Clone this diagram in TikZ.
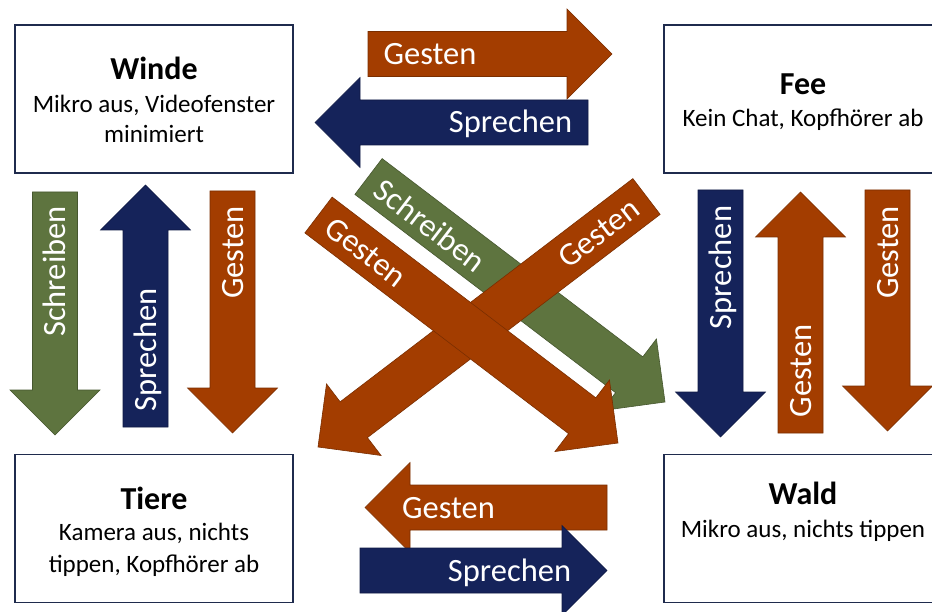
\documentclass[tikz,border=0pt]{standalone}
\usepackage{fontspec}
\setmainfont{Carlito}
\usetikzlibrary{calc}
\definecolor{cOrange}{HTML}{A33D00}
\definecolor{cNavy}{HTML}{15235A}
\definecolor{cGreen}{HTML}{5E743F}
\definecolor{cBox}{HTML}{1F2B4D}
\newcommand\blockarrow[3]{%
  \coordinate (#2h) at ($(#3)!45pt!(#2)$);
  \filldraw[fill=#1, draw=#1!75!black, line width=0.6pt]
    ($(#2)!22.5pt!90:(#3)$) -- ($(#2h)!22.5pt!90:(#3)$) -- ($(#2h)!45pt!90:(#3)$) -- (#3)
    -- ($(#2h)!45pt!-90:(#3)$) -- ($(#2h)!22.5pt!-90:(#3)$) -- ($(#2)!22.5pt!-90:(#3)$) -- cycle;
}
\tikzset{
  box/.style={draw=cBox, line width=1.3pt, fill=white, minimum width=278pt, minimum height=148pt, inner sep=0pt},
  ttl/.style={font=\bfseries\fontsize{32}{36}\selectfont, anchor=base, inner sep=0pt},
  sub/.style={font=\fontsize{25}{30}\selectfont, anchor=base, inner sep=0pt},
  lbl/.style={text=white, font=\fontsize{32.5}{36}\selectfont, inner sep=0pt, text height=21pt, text depth=0pt, anchor=center}
}
\begin{document}
\begin{tikzpicture}[x=1pt, y=-1pt]
\useasboundingbox[fill=white] (0,0) rectangle (932,612);
% boxes
\node[box] (winde) at (154,99) {};
\node[box] (fee) at (803,99) {};
\node[box] (tiere) at (154,528.5) {};
\node[box] (wald) at (803,528.5) {};
\node[ttl] (windet) at (154,80) {Winde};
\node[sub] (windes1) at (154,113) {Mikro aus, Videofenster};
\node[sub] (windes2) at (154,143) {minimiert};
\node[ttl] (feet) at (803,95) {Fee};
\node[sub] (fees1) at (803,127) {Kein Chat, Kopfhörer ab};
\node[ttl] (tieret) at (154,509) {Tiere};
\node[sub] (tieres1) at (154,540) {Kamera aus, nichts};
\node[sub] (tieres2) at (154,572) {tippen, Kopfhörer ab};
\node[ttl] (waldt) at (803,504) {Wald};
\node[sub] (walds1) at (803,537) {Mikro aus, nichts tippen};
% coordinates: tails (t) and tips (p)
\coordinate (ta) at (368,54);    \coordinate (pa) at (612,54);
\coordinate (tb) at (588,122.5); \coordinate (pb) at (315,122.5);
\coordinate (tc) at (607,507.5); \coordinate (pc) at (365,507.5);
\coordinate (td) at (360,570.5); \coordinate (pd) at (607,570.5);
\coordinate (te) at (55,192);    \coordinate (pe) at (55,435);
\coordinate (tf) at (145.5,427); \coordinate (pf) at (145.5,185);
\coordinate (tg) at (232.5,191); \coordinate (pg) at (232.5,433);
\coordinate (th) at (720.5,190); \coordinate (ph) at (720.5,437);
\coordinate (ti) at (800.5,433); \coordinate (pi) at (800.5,192);
\coordinate (tj) at (887.5,190); \coordinate (pj) at (887.5,431);
\coordinate (tk) at (368.5,176.5); \coordinate (pk) at (665,402);
\coordinate (tl) at (646.5,196.5); \coordinate (pl) at (318,447);
\coordinate (tm) at (318.5,215);   \coordinate (pm) at (618,443);
% arrows
\blockarrow{cOrange}{ta}{pa}
\blockarrow{cNavy}{tb}{pb}
\blockarrow{cOrange}{tc}{pc}
\blockarrow{cNavy}{td}{pd}
\blockarrow{cGreen}{te}{pe}
\blockarrow{cNavy}{tf}{pf}
\blockarrow{cOrange}{tg}{pg}
\blockarrow{cNavy}{th}{ph}
\blockarrow{cOrange}{ti}{pi}
\blockarrow{cOrange}{tj}{pj}
\blockarrow{cGreen}{tk}{pk}
\blockarrow{cOrange}{tl}{pl}
\blockarrow{cOrange}{tm}{pm}
% labels
\node[lbl] (la) at (430,54) {Gesten};
\node[lbl] (lb) at (510.5,122.5) {Sprechen};
\node[lbl] (lc) at (448.5,507.5) {Gesten};
\node[lbl] (ld) at (509.5,570.5) {Sprechen};
\node[lbl, rotate=90] (le) at (55,271.5) {Schreiben};
\node[lbl, rotate=90] (lf) at (145.5,350) {Sprechen};
\node[lbl, rotate=90] (lg) at (232.5,252.5) {Gesten};
\node[lbl, rotate=90] (lh) at (720.5,267.5) {Sprechen};
\node[lbl, rotate=90] (li) at (800.5,371) {Gesten};
\node[lbl, rotate=90] (lj) at (887.5,252.5) {Gesten};
\node[lbl, rotate=-37.5] (lk) at (430,226) {Schreiben};
\node[lbl, rotate=37.5] (ll) at (599,233) {Gesten};
\node[lbl, rotate=-37.5] (lm) at (366,252) {Gesten};
\end{tikzpicture}
\end{document}
